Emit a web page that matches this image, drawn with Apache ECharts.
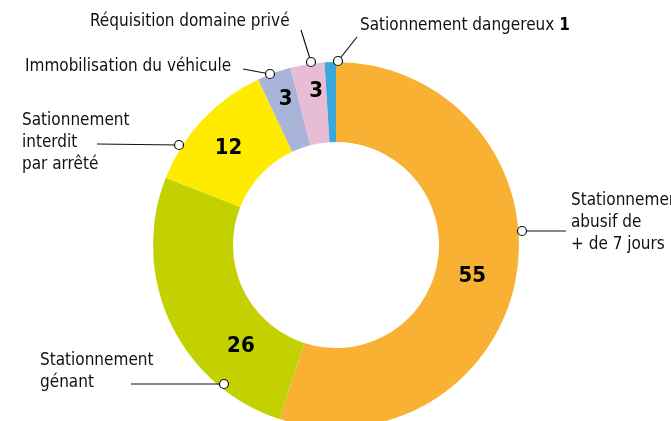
<!DOCTYPE html>
<html>
<head>
<meta charset="utf-8">
<script src="https://cdn.jsdelivr.net/npm/echarts@6/dist/echarts.min.js"></script>
<style>
  html, body { margin: 0; padding: 0; background: #fff; }
  #chart { width: 671px; height: 421px; }
</style>
</head>
<body>
<div id="chart"></div>
<script>
// données
let categories = ['Stationnement abusif de + de 7 jours', 'Stationnement gênant', 'Sationnement interdit par arrêté',
    'Immobilisation du véhicule', 'Réquisition domaine privé', 'Sationnement dangereux'];
let labelTexts = ['Stationnement\nabusif de\n+ de 7 jours', 'Stationnement\ngénant', 'Sationnement\ninterdit\npar arrêté',
    'Immobilisation du véhicule', 'Réquisition domaine privé', 'Sationnement dangereux '];
let values = [55, 26, 12, 3, 3, 1];
let colors = ['#f8b133', '#c3d100', '#ffeb00', '#aab3d8', '#e8bcd5', '#3aa8dc'];

// placement des étiquettes extérieures : [texte x, texte y, coude x, coude y, point x, point y]
let callouts = [
    [571, 223, 566, 231, 522, 231],
    [40, 372, 131, 384, 224, 384],
    [22, 143, 97, 144, 179, 145],
    [25, 67, 243, 69, 270, 74],
    [90, 22, 301, 30, 311, 62],
    [360, 26, 357, 37, 338, 61]
];
// décalage des valeurs dans l'anneau
let innerShift = [[-8, 8], [37, 39], [-1, 3], [-1, -8], [3, -10], [0, 0]];

let font = '"DejaVu Sans Condensed", "Liberation Sans Narrow", sans-serif';
let chart = echarts.init(document.getElementById('chart'));

let seriesData = values.map(function (v, i) {
    return {name: categories[i], value: v, itemStyle: {color: colors[i]}};
});

let option = {
    backgroundColor: '#fff',
    animation: false,
    graphic: callouts.map(function (c) {
        return {
            type: 'circle', z: 100,
            shape: {cx: c[4], cy: c[5], r: 4.5},
            style: {fill: '#fff', stroke: '#111', lineWidth: 1.2}
        };
    }),
    series: [
        {
            type: 'pie',
            center: [336, 245],
            radius: [103, 183],
            startAngle: 90,
            silent: true,
            data: seriesData,
            label: {
                show: true,
                position: 'inside',
                fontFamily: font,
                fontWeight: 'bold',
                fontSize: 22,
                color: '#000',
                formatter: function (p) { return p.value > 1 ? String(p.value) : ''; }
            },
            labelLayout: function (p) {
                let s = innerShift[p.dataIndex];
                return {dx: s[0], dy: s[1]};
            },
            labelLine: {show: false}
        },
        {
            type: 'pie',
            center: [336, 245],
            radius: [103, 183],
            startAngle: 90,
            silent: true,
            z: 3,
            data: values.map(function (v, i) {
                return {name: categories[i], value: v, itemStyle: {color: 'rgba(0,0,0,0)'}};
            }),
            label: {
                show: true,
                position: 'outside',
                overflow: 'none',
                fontFamily: font,
                fontSize: 17,
                lineHeight: 22,
                color: '#111',
                formatter: function (p) {
                    if (p.dataIndex == 5) return '{a|' + labelTexts[5] + '}{b|' + p.value + '}';
                    return labelTexts[p.dataIndex];
                },
                rich: {
                    a: {fontFamily: font, fontSize: 17, color: '#111'},
                    b: {fontFamily: font, fontSize: 17, fontWeight: 'bold', color: '#000'}
                }
            },
            labelLine: {show: true, lineStyle: {color: '#111', width: 1.2}},
            labelLayout: function (p) {
                let c = callouts[p.dataIndex];
                return {
                    x: c[0], y: c[1],
                    align: 'left', verticalAlign: 'middle',
                    width: 300,
                    labelLinePoints: [[c[4], c[5]], [c[2], c[3]], [c[2], c[3]]]
                };
            }
        }
    ]
};
chart.setOption(option);
</script>
</body>
</html>
